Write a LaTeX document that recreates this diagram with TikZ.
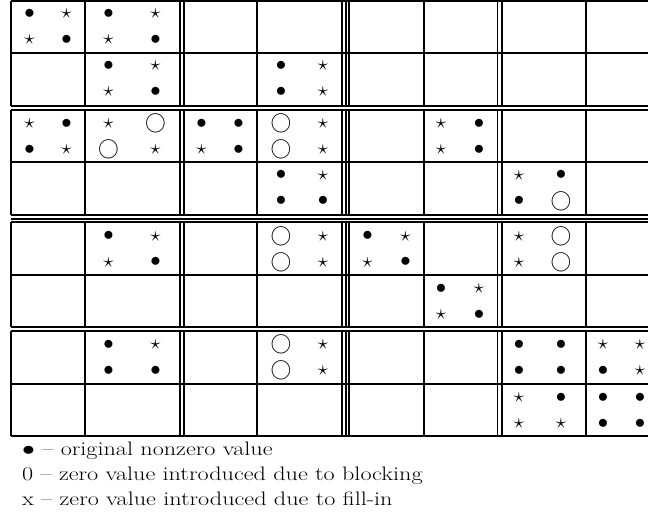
\documentclass[tikz,border=0pt]{standalone}
\usepackage{graphicx}
\begin{document}
\newcommand\cellsyms[8]{%
  \node[sym] (#1a) at (#2-#3,#4-13) {$#5$};
  \node[sym] (#1b) at (#2+#3,#4-13) {$#6$};
  \node[sym] (#1c) at (#2-#3,#4+13) {$#7$};
  \node[sym] (#1d) at (#2+#3,#4+13) {$#8$};}
\newcommand\legtext[1]{\scalebox{1.24}[1]{#1}}
\begin{tikzpicture}[x=1pt,y=-1pt,
  rule/.style={line width=1.9pt},
  sym/.style={inner sep=0pt,font=\fontsize{20}{24}\selectfont},
  legend/.style={inner sep=0pt,anchor=base west,font=\fontsize{19.5}{23}\selectfont}]
\useasboundingbox (0,0) rectangle (648,518);
% horizontal rules
\foreach \y in {1,53,106,110,162,215,218.7,222.4,275,327,331.3,384,436}
  \draw[rule] (11,\y) -- (670,\y);
% vertical rules, per band (no rule in the gaps between multiple hlines)
\foreach \ya/\yb in {1/106,110/215,222.4/327,331.3/436}
  \foreach \x in {11,85,180.3,183.7,257,341.9,345.6,349.3,424,497.5,501.8,585.7,660}
    \draw[rule] (\x,\ya) -- (\x,\yb);
% row 1
\cellsyms{r1c1}{48}{18.5}{27}{\bullet}{\star}{\star}{\bullet}
\cellsyms{r1c2}{132}{23.5}{27}{\bullet}{\star}{\star}{\bullet}
% row 2
\cellsyms{r2c2}{132}{23.5}{78.7}{\bullet}{\star}{\star}{\bullet}
\cellsyms{r2c4}{302}{21}{78.7}{\bullet}{\star}{\bullet}{\star}
% row 3
\cellsyms{r3c1}{48}{18.5}{136.4}{\star}{\bullet}{\bullet}{\star}
\cellsyms{r3c2}{132}{23.5}{136.4}{\star}{\bigcirc}{\bigcirc}{\star}
\cellsyms{r3c3}{220}{18.5}{136.4}{\bullet}{\bullet}{\star}{\bullet}
\cellsyms{r3c4}{302}{21}{136.4}{\bigcirc}{\star}{\bigcirc}{\star}
\cellsyms{r3c6}{460}{19}{136.4}{\star}{\bullet}{\star}{\bullet}
% row 4
\cellsyms{r4c4}{302}{21}{188.3}{\bullet}{\star}{\bullet}{\bullet}
\cellsyms{r4c7}{540}{21}{188.3}{\star}{\bullet}{\bullet}{\bigcirc}
% row 5
\cellsyms{r5c2}{132}{23.5}{249.2}{\bullet}{\star}{\star}{\bullet}
\cellsyms{r5c4}{302}{21}{249.2}{\bigcirc}{\star}{\bigcirc}{\star}
\cellsyms{r5c5}{386.5}{19}{249.2}{\bullet}{\star}{\star}{\bullet}
\cellsyms{r5c7}{540}{21}{249.2}{\star}{\bigcirc}{\star}{\bigcirc}
% row 6
\cellsyms{r6c6}{460}{19}{302}{\bullet}{\star}{\star}{\bullet}
% row 7
\cellsyms{r7c2}{132}{23.5}{357.5}{\bullet}{\star}{\bullet}{\bullet}
\cellsyms{r7c4}{302}{21}{357.5}{\bigcirc}{\star}{\bigcirc}{\star}
\cellsyms{r7c7}{540}{21}{357.5}{\bullet}{\bullet}{\bullet}{\bullet}
\cellsyms{r7c8}{621.5}{18.5}{357.5}{\star}{\star}{\bullet}{\star}
% row 8
\cellsyms{r8c7}{540}{21}{410.8}{\star}{\bullet}{\star}{\star}
\cellsyms{r8c8}{621.5}{18.5}{410.8}{\bullet}{\bullet}{\bullet}{\bullet}
% legend
\node[legend] (l1) at (22,455) {\legtext{$\bullet$ -- original nonzero value}};
\node[legend] (l2) at (22,480) {\legtext{0 -- zero value introduced due to blocking}};
\node[legend] (l3) at (22,505) {\legtext{x -- zero value introduced due to fill-in}};
\end{tikzpicture}
\end{document}
